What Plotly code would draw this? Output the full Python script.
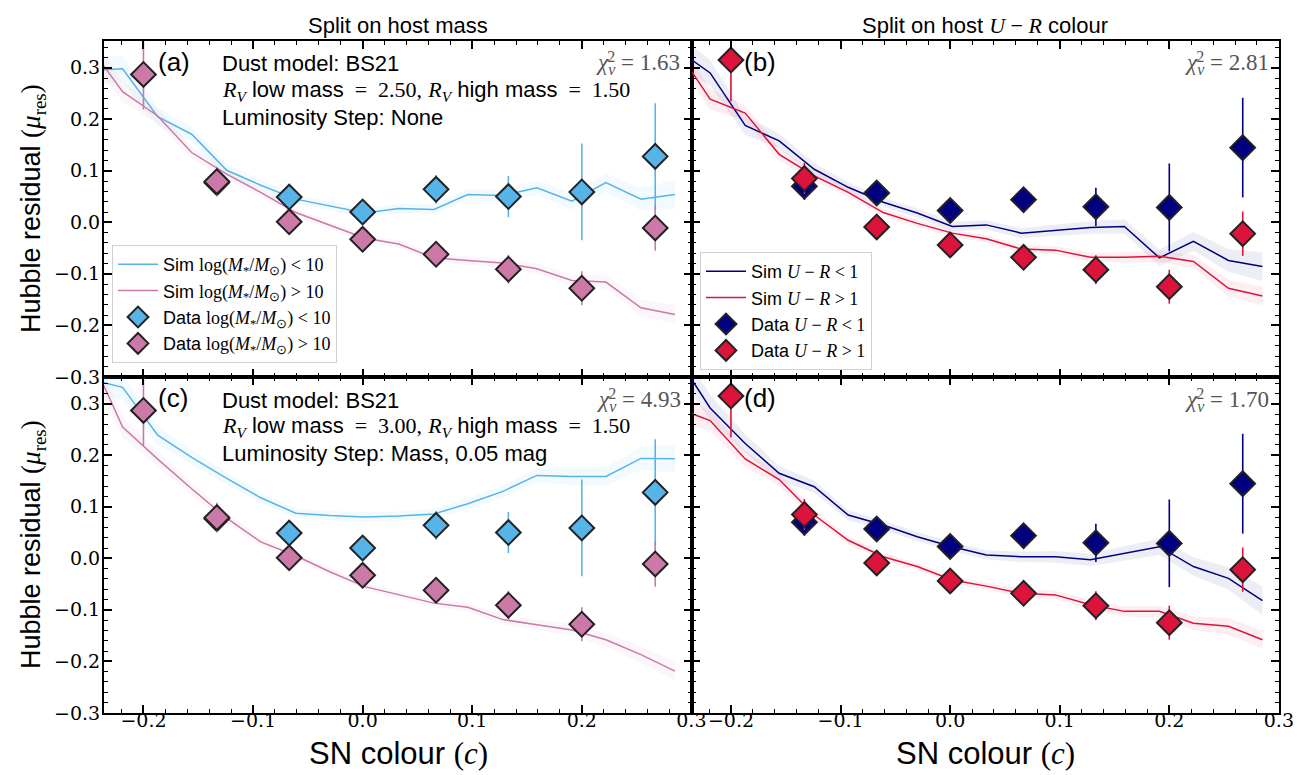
import plotly.graph_objects as go
from plotly.subplots import make_subplots

# ---------------- data ----------------
bin_centres = [-0.2, -0.133, -0.067, 0.0, 0.067, 0.133, 0.2, 0.267]

data_mass_low = [None, 0.077, 0.049, 0.020, 0.064, 0.050, 0.059, 0.128]
err_mass_low = [0.0, 0.020, 0.012, 0.012, 0.028, 0.040, 0.094, 0.103]
data_mass_high = [0.287, 0.079, 0.001, -0.033, -0.062, -0.091, -0.128, -0.011]
err_mass_high = [0.068, 0.029, 0.010, 0.010, 0.012, 0.028, 0.033, 0.044]

data_ur_low = [None, 0.070, 0.057, 0.023, 0.044, 0.030, 0.029, 0.145]
err_ur_low = [0.0, 0.026, 0.012, 0.012, 0.023, 0.037, 0.085, 0.097]
data_ur_high = [0.315, 0.085, -0.009, -0.044, -0.068, -0.092, -0.125, -0.022]
err_ur_high = [0.080, 0.030, 0.010, 0.010, 0.012, 0.028, 0.033, 0.043]

sim_x = [-0.250, -0.219, -0.187, -0.156, -0.124, -0.093, -0.061, -0.030, 0.002,
         0.033, 0.065, 0.096, 0.128, 0.159, 0.191, 0.222, 0.254, 0.285]

sim_a_low = [0.295, 0.298, 0.205, 0.171, 0.101, 0.072, 0.045, 0.031, 0.018,
             0.027, 0.025, 0.054, 0.052, 0.067, 0.041, 0.077, 0.045, 0.054]
sim_a_high = [0.344, 0.2535, 0.2065, 0.1355, 0.0935, 0.058, 0.019, -0.006, -0.031,
              -0.042, -0.069, -0.074, -0.079, -0.090, -0.113, -0.116, -0.166, -0.179]

sim_b_low = [0.337, 0.290, 0.188, 0.158, 0.103, 0.068, 0.039, 0.018, -0.008,
             -0.005, -0.021, -0.016, -0.010, -0.008, -0.069, -0.037, -0.074, -0.086]
sim_b_high = [0.338, 0.239, 0.212, 0.132, 0.090, 0.058, 0.019, -0.002, -0.021,
              -0.032, -0.052, -0.054, -0.068, -0.068, -0.066, -0.076, -0.128, -0.143]

sim_c_low = [0.348, 0.332, 0.239, 0.196, 0.155, 0.1175, 0.0876, 0.083, 0.080,
             0.082, 0.086, 0.106, 0.130, 0.161, 0.159, 0.159, 0.194, 0.1935]
sim_c_high = [0.400, 0.255, 0.1925, 0.135, 0.078, 0.032, 0.005, -0.026, -0.055,
              -0.071, -0.087, -0.095, -0.119, -0.129, -0.139, -0.158, -0.187, -0.219]

sim_d_low = [0.394, 0.292, 0.223, 0.165, 0.139, 0.084, 0.0645, 0.042, 0.0226,
             0.0065, 0.003, 0.003, -0.003, 0.0097, 0.0226, -0.016, -0.039, -0.082]
sim_d_high = [0.292, 0.2675, 0.193, 0.153, 0.084, 0.035, 0.003, -0.016, -0.042,
              -0.054, -0.068, -0.071, -0.090, -0.103, -0.103, -0.126, -0.132, -0.158]

# half-widths of the simulation uncertainty bands
band_low = [0.030, 0.025, 0.018, 0.014, 0.012, 0.010, 0.009, 0.009, 0.009,
            0.009, 0.010, 0.011, 0.012, 0.014, 0.016, 0.018, 0.022, 0.028]
band_high = [0.025, 0.020, 0.015, 0.012, 0.010, 0.008, 0.007, 0.007, 0.007,
             0.007, 0.008, 0.008, 0.009, 0.010, 0.011, 0.013, 0.016, 0.018]

chi2_values = ["1.63", "2.81", "4.93", "1.70"]
rv_low = ["2.50", "3.00"]
rv_high = ["1.50", "1.50"]
lum_step = ["None", "Mass, 0.05 mag"]

# ---------------- style ----------------
C_LOWMASS = "#56B4E9"
C_HIGHMASS = "#CC79A7"
C_URLOW = "#000080"
C_URHIGH = "#DC143C"
SANS = "Liberation Sans"
SERIF = "Liberation Serif"
TICKSERIF = "DejaVu Serif"

W, H = 1312, 775
ML, MR, MT, MB = 96, 41, 33, 70
PW, PH = W - ML - MR, H - MT - MB


def px(xp):
    return (xp - ML) / PW


def py(yp):
    return 1 - (yp - MT) / PH


def rgba(hexc, a):
    h = hexc.lstrip("#")
    r, g, b = int(h[0:2], 16), int(h[2:4], 16), int(h[4:6], 16)
    return f"rgba({r},{g},{b},{a})"


def m(s):
    return f"<span style='font-family:{SERIF}'>{s}</span>"


fig = make_subplots(rows=2, cols=2, horizontal_spacing=0, vertical_spacing=0)


def add_band(row, col, y, half, color):
    up = [v + h for v, h in zip(y, half)]
    lo = [v - h for v, h in zip(y, half)]
    fig.add_trace(go.Scatter(x=sim_x + sim_x[::-1], y=up + lo[::-1], fill="toself",
                             fillcolor=rgba(color, 0.07), line=dict(width=0),
                             mode="lines", hoverinfo="skip", showlegend=False),
                  row=row, col=col)


def add_sim(row, col, y, color, name, legend, show):
    fig.add_trace(go.Scatter(x=sim_x, y=y, mode="lines", line=dict(color=color, width=1.5),
                             name=name, legend=legend, showlegend=show), row=row, col=col)


def add_data(row, col, y, err, color, name, legend, show):
    fig.add_trace(go.Scatter(x=bin_centres, y=y, mode="markers",
                             marker=dict(symbol="diamond", size=19, color=color,
                                         line=dict(color="#222222", width=2)),
                             error_y=dict(type="data", array=err, thickness=1.6, width=0,
                                          color=color),
                             name=name, legend=legend, showlegend=show), row=row, col=col)


mass_lt = m("log(<i>M</i><sub>*</sub>/<i>M</i><sub>⊙</sub>)&nbsp;&lt;&nbsp;10")
mass_gt = m("log(<i>M</i><sub>*</sub>/<i>M</i><sub>⊙</sub>)&nbsp;&gt;&nbsp;10")
ur_lt = m("<i>U</i>&nbsp;−&nbsp;<i>R</i>&nbsp;&lt;&nbsp;1")
ur_gt = m("<i>U</i>&nbsp;−&nbsp;<i>R</i>&nbsp;&gt;&nbsp;1")

panels = [
    (1, 1, sim_a_low, sim_a_high, "legend", True),
    (2, 1, sim_c_low, sim_c_high, "legend", False),
]
for row, col, slo, shi, lg, show in panels:
    add_band(row, col, slo, band_low, C_LOWMASS)
    add_band(row, col, shi, band_high, C_HIGHMASS)
    add_sim(row, col, slo, C_LOWMASS, "Sim " + mass_lt, lg, show)
    add_sim(row, col, shi, C_HIGHMASS, "Sim " + mass_gt, lg, show)
    add_data(row, col, data_mass_low, err_mass_low, C_LOWMASS, "Data " + mass_lt, lg, show)
    add_data(row, col, data_mass_high, err_mass_high, C_HIGHMASS, "Data " + mass_gt, lg, show)

panels = [
    (1, 2, sim_b_low, sim_b_high, "legend2", True),
    (2, 2, sim_d_low, sim_d_high, "legend2", False),
]
for row, col, slo, shi, lg, show in panels:
    add_band(row, col, slo, band_low, C_URLOW)
    add_band(row, col, shi, band_high, C_URHIGH)
    add_sim(row, col, slo, C_URLOW, "Sim " + ur_lt, lg, show)
    add_sim(row, col, shi, C_URHIGH, "Sim " + ur_gt, lg, show)
    add_data(row, col, data_ur_low, err_ur_low, C_URLOW, "Data " + ur_lt, lg, show)
    add_data(row, col, data_ur_high, err_ur_high, C_URHIGH, "Data " + ur_gt, lg, show)

ax_common = dict(showline=True, linewidth=2, linecolor="black", mirror="allticks",
                 ticks="inside", ticklen=8, tickwidth=1.5, tickcolor="black",
                 showgrid=False, zeroline=False, dtick=0.1, tick0=0, tickformat=".1f",
                 tickfont=dict(family=TICKSERIF, size=19, color="black"),
                 minor=dict(ticks="inside", ticklen=4, tickwidth=1.2, tickcolor="black",
                            dtick=0.02, showgrid=False))

for r in (1, 2):
    for c in (1, 2):
        fig.update_xaxes(range=[-0.236, 0.3001], showticklabels=(r == 2), ticklabelstandoff=-11,
                         row=r, col=c, **ax_common)
        fig.update_yaxes(range=[-0.3003, 0.352], showticklabels=(c == 1), ticklabelstandoff=-2,
                         row=r, col=c, **ax_common)

ann = []


def text(x, y, s, size, family=SANS, xanchor="left", color="black", angle=0):
    ann.append(dict(x=px(x), y=py(y), xref="paper", yref="paper", text=s, showarrow=False,
                    xanchor=xanchor, yanchor="middle", textangle=angle,
                    font=dict(family=family, size=size, color=color)))


# titles
text(390, 17, "Split on host mass", 22, xanchor="center")
text(977, 17, "Split on host " + m("<i>U</i>&nbsp;−&nbsp;<i>R</i>") + " colour", 22, xanchor="center")
# axis labels
for yc in (201, 537):
    text(25, yc, "Hubble residual " + m("(<i>μ</i><sub>res</sub>)"), 27, xanchor="center", angle=-90)
for xc in (390, 977):
    text(xc, 746, "SN colour " + m("(<i>c</i>)"), 31, xanchor="center")

# panel labels
text(148, 54, "(a)", 26)
text(734, 54, "(b)", 26)
text(148, 390, "(c)", 26)
text(734, 390, "(d)", 26)

# chi2 labels: chi with subscript nu, and a superscript 2 stacked above nu
HIDE = "<span style='color:rgba(0,0,0,0)'>{}</span>"
chi_pos = [(674, 56), (1263, 56), (675, 393), (1263, 393)]
for (xx, yy), val in zip(chi_pos, chi2_values):
    text(xx, yy, f"<i>χ</i><sub><i>ν</i></sub>&nbsp;=&nbsp;{val}", 23, family=SERIF,
         xanchor="right", color="#555555")
    text(xx, yy - 2, HIDE.format("<i>χ</i>") + "<sup>2</sup>" + HIDE.format(f"&nbsp;=&nbsp;{val}"),
         23, family=SERIF, xanchor="right", color="#555555")

# dust model text
EQ = "&nbsp;&nbsp;=&nbsp;&nbsp;"
for i, y0 in enumerate((56, 392)):
    text(212, y0, "Dust model: BS21", 22)
    text(212, y0 + 27, m("<i>R</i><sub><i>V</i></sub>") + " low mass" + m(f"{EQ}{rv_low[i]},") + " "
         + m("<i>R</i><sub><i>V</i></sub>") + " high mass" + m(f"{EQ}{rv_high[i]}"), 22)
    text(212, y0 + 53, "Luminosity Step: " + lum_step[i], 22)

leg_common = dict(bgcolor="rgba(255,255,255,0.85)", bordercolor="#d0d0d0", borderwidth=1,
                  font=dict(family=SANS, size=18, color="black"), xanchor="left",
                  yanchor="top", tracegroupgap=0, itemwidth=40)

fig.update_layout(
    width=W, height=H,
    margin=dict(l=ML, r=MR, t=MT, b=MB),
    plot_bgcolor="white", paper_bgcolor="white",
    annotations=ann,
    legend=dict(x=px(104), y=py(237), **leg_common),
    legend2=dict(x=px(692), y=py(244), **leg_common),
)

fig.write_html("out.html")
